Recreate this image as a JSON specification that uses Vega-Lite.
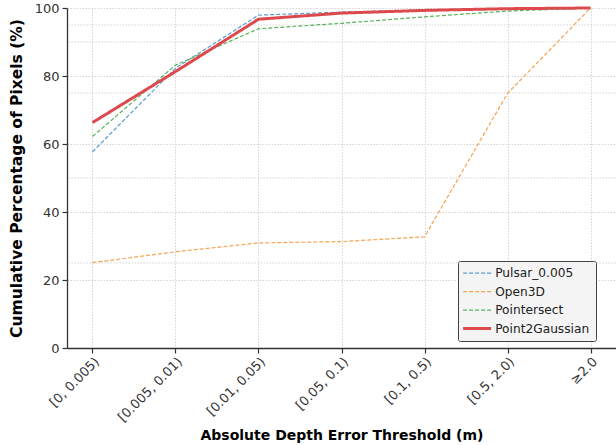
{
  "$schema": "https://vega.github.io/schema/vega-lite/v6.json",
  "width": 549,
  "height": 340,
  "autosize": {"type": "none"},
  "padding": {"left": 67, "top": 8, "right": 0, "bottom": 97},
  "background": "white",
  "config": {
    "font": "DejaVu Sans",
    "view": {"stroke": null},
    "axis": {
      "domainColor": "#333333",
      "domainWidth": 1.3,
      "tickColor": "#333333",
      "tickSize": 5,
      "tickWidth": 1.2,
      "labelColor": "#333333",
      "labelFont": "DejaVu Sans",
      "labelFontSize": 13,
      "titleFont": "DejaVu Sans",
      "titleFontSize": 14,
      "titleFontWeight": "bold",
      "titleColor": "#000000",
      "gridColor": "#d0d0d0",
      "gridDash": [1.5, 1.5],
      "gridWidth": 0.9
    }
  },
  "datasets": {
    "series": [
      {"bin": "[0, 0.005)", "method": "Pulsar_0.005", "pct": 57.7},
      {"bin": "[0.005, 0.01)", "method": "Pulsar_0.005", "pct": 82.3},
      {"bin": "[0.01, 0.05)", "method": "Pulsar_0.005", "pct": 97.9},
      {"bin": "[0.05, 0.1)", "method": "Pulsar_0.005", "pct": 98.8},
      {"bin": "[0.1, 0.5)", "method": "Pulsar_0.005", "pct": 99.4},
      {"bin": "[0.5, 2.0)", "method": "Pulsar_0.005", "pct": 99.8},
      {"bin": "≥2.0", "method": "Pulsar_0.005", "pct": 100},
      {"bin": "[0, 0.005)", "method": "Open3D", "pct": 25.1},
      {"bin": "[0.005, 0.01)", "method": "Open3D", "pct": 28.3},
      {"bin": "[0.01, 0.05)", "method": "Open3D", "pct": 30.9},
      {"bin": "[0.05, 0.1)", "method": "Open3D", "pct": 31.3},
      {"bin": "[0.1, 0.5)", "method": "Open3D", "pct": 32.7},
      {"bin": "[0.5, 2.0)", "method": "Open3D", "pct": 74.9},
      {"bin": "≥2.0", "method": "Open3D", "pct": 100},
      {"bin": "[0, 0.005)", "method": "Pointersect", "pct": 62.2},
      {"bin": "[0.005, 0.01)", "method": "Pointersect", "pct": 83.2},
      {"bin": "[0.01, 0.05)", "method": "Pointersect", "pct": 93.9},
      {"bin": "[0.05, 0.1)", "method": "Pointersect", "pct": 95.5},
      {"bin": "[0.1, 0.5)", "method": "Pointersect", "pct": 97.4},
      {"bin": "[0.5, 2.0)", "method": "Pointersect", "pct": 99.1},
      {"bin": "≥2.0", "method": "Pointersect", "pct": 100},
      {"bin": "[0, 0.005)", "method": "Point2Gaussian", "pct": 66.3},
      {"bin": "[0.005, 0.01)", "method": "Point2Gaussian", "pct": 81.3},
      {"bin": "[0.01, 0.05)", "method": "Point2Gaussian", "pct": 96.7},
      {"bin": "[0.05, 0.1)", "method": "Point2Gaussian", "pct": 98.5},
      {"bin": "[0.1, 0.5)", "method": "Point2Gaussian", "pct": 99.3},
      {"bin": "[0.5, 2.0)", "method": "Point2Gaussian", "pct": 99.8},
      {"bin": "≥2.0", "method": "Point2Gaussian", "pct": 100}
    ],
    "refs": [{"v": 25}, {"v": 50}, {"v": 75}, {"v": 90}, {"v": 95}]
  },
  "layer": [
    {
      "data": {"name": "refs"},
      "mark": {"type": "rule", "color": "#d0d0d0", "strokeDash": [1.5, 1.5], "strokeWidth": 0.9},
      "encoding": {
        "y": {"field": "v", "type": "quantitative", "scale": {"domain": [0, 100]}}
      }
    },
    {
      "data": {"name": "series"},
      "mark": {"type": "line", "strokeCap": "butt", "strokeJoin": "miter"},
      "encoding": {
        "x": {
          "field": "bin", "type": "ordinal", "sort": null,
          "scale": {"type": "point", "padding": 0.307},
          "axis": {
            "title": "Absolute Depth Error Threshold (m)",
            "labelAngle": -45, "labelAlign": "right", "labelBaseline": "top",
            "labelPadding": 2, "grid": true,
            "titleY": 91, "titleBaseline": "alphabetic"
          }
        },
        "y": {
          "field": "pct", "type": "quantitative",
          "scale": {"domain": [0, 100], "nice": false},
          "axis": {
            "title": "Cumulative Percentage of Pixels (%)",
            "titleFontSize": 15.5,
            "values": [0, 20, 40, 60, 80, 100],
            "grid": true, "labelPadding": 3, "titlePadding": 10
          }
        },
        "color": {
          "field": "method", "type": "nominal",
          "scale": {
            "domain": ["Pulsar_0.005", "Open3D", "Pointersect", "Point2Gaussian"],
            "range": ["#5a9bd0", "#f6a353", "#5bb25b", "#dc4a4d"]
          },
          "legend": {
            "title": null,
            "orient": "none",
            "legendX": 391,
            "legendY": 253,
            "symbolType": "stroke",
            "symbolSize": 784,
            "symbolOffset": 7,
            "labelFontSize": 12.2,
            "labelColor": "#222222",
            "labelFont": "DejaVu Sans",
            "fillColor": "#f4f4f4",
            "strokeColor": "#444444",
            "padding": 6,
            "cornerRadius": 2,
            "rowPadding": 5.5,
            "labelOffset": 12,
            "encode": {
              "symbols": {
                "update": {
                  "strokeWidth": {"signal": "datum.value === 'Point2Gaussian' ? 3 : 1.3"}
                }
              }
            }
          }
        },
        "strokeDash": {
          "field": "method", "type": "nominal",
          "scale": {
            "domain": ["Pulsar_0.005", "Open3D", "Pointersect", "Point2Gaussian"],
            "range": [[4, 2], [4, 2], [4, 2], [1, 0]]
          },
          "legend": null
        },
        "strokeWidth": {
          "condition": {"test": "datum.method === 'Point2Gaussian'", "value": 3},
          "value": 1.2
        }
      }
    }
  ]
}
